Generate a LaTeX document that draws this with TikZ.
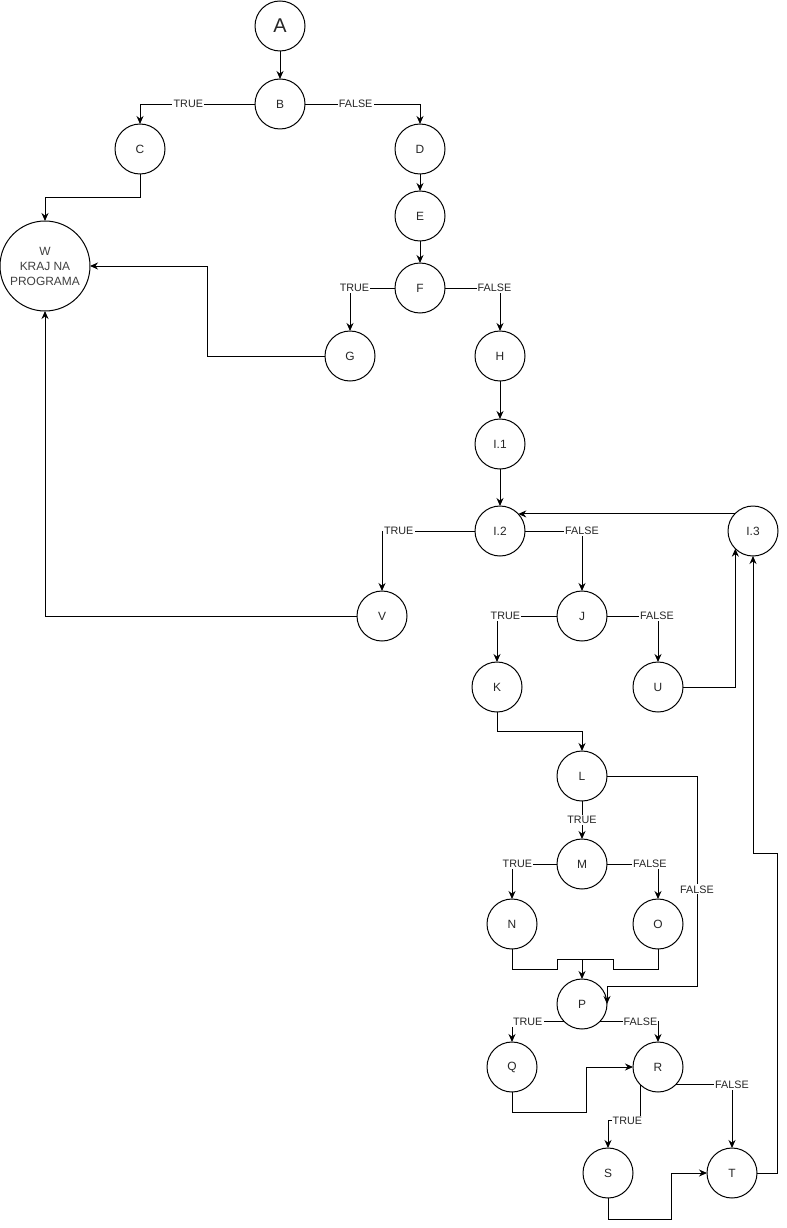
\documentclass[tikz,border=0pt]{standalone}
\usepackage{fontspec}
\setmainfont{Liberation Sans}
\usetikzlibrary{positioning, arrows.meta, calc}

\begin{document}
\begin{tikzpicture}[
        node distance=0.84cm and 2.7cm,
        line width=0.85pt,
        state/.style={draw, circle, minimum size=1.5cm, inner sep=0pt, outer sep=0pt, font=\fontsize{10.2}{12}\selectfont, text=black!85},
        stop/.style={draw, circle, minimum size=2.7cm, inner sep=0pt, outer sep=0pt, align=center, font=\fontsize{10.2}{12.8}\selectfont, text=black!75},
        cond/.style={fill=white, inner sep=1pt, font=\fontsize{9.2}{11}\selectfont, text=black!85},
        arrow/.style={-{Stealth[length=2.4mm, width=2.1mm]}}
    ]
    \useasboundingbox (0,0) rectangle (23.58,-36.84);

    \node[state, font=\fontsize{17}{20}\selectfont] (A) at (8.4,-0.78) {A};
    \node[state, below=of A] (B) {B};
    \node[state, left=of B, yshift=-1.35cm] (C) {C};
    \node[state, right=of B, yshift=-1.35cm] (D) {D};
    \node[stop, below=1.41cm of C, xshift=-2.85cm] (W) {W\\KRAJ NA\\PROGRAMA};
    \node[state, below=0.51cm of D] (E) {E};
    \node[state, below=0.66cm of E] (F) {F};
    \node[state, below=0.54cm of F, xshift=-2.1cm] (G) {G};
    \node[state, below=0.54cm of F, xshift=2.4cm] (H) {H};
    \node[state, below=1.14cm of H] (I1) {I.1};
    \node[state, below=1.11cm of I1] (I2) {I.2};
    \node[state, right=6.09cm of I2] (I3) {I.3};
    \node[state, below=1.05cm of I2, xshift=-3.54cm] (V) {V};
    \node[state, below=1.05cm of I2, xshift=2.46cm] (J) {J};
    \node[state, below=0.63cm of J, xshift=-2.55cm] (K) {K};
    \node[state, below=0.63cm of J, xshift=2.28cm] (U) {U};
    \node[state, below=1.17cm of K, xshift=2.55cm] (L) {L};
    \node[state, below=1.14cm of L] (M) {M};
    \node[state, below=0.3cm of M, xshift=-2.1cm] (N) {N};
    \node[state, below=0.3cm of M, xshift=2.28cm] (O) {O};
    \node[state, below=2.7cm of M] (P) {P};
    \node[state, below=0.39cm of P, xshift=-2.1cm] (Q) {Q};
    \node[state, below=0.39cm of P, xshift=2.28cm] (R) {R};
    \node[state, below=1.68cm of R, xshift=-1.5cm] (S) {S};
    \node[state, right=2.22cm of S] (T) {T};
    \coordinate[above=0.6cm of P] (NO);

    % top part
    \draw[arrow] (A) -- (B);
    \draw[arrow] (B) -| node[cond, pos=0.29] {TRUE} (C);
    \draw[arrow] (B) -| node[cond, pos=0.22] {FALSE} (D);
    \draw[arrow] (C.south) -- ++(0,-0.69) -| (W.north);
    \draw[arrow] (D) -- (E);
    \draw[arrow] (E) -- (F);
    \draw[arrow] (F) -| node[cond, pos=0.45] {TRUE} (G);
    \draw[arrow] (F) -| node[cond, pos=0.45] {FALSE} (H);
    \draw[arrow] (G.west) -- ++(-3.54,0) |- (W.east);
    \draw[arrow] (H) -- (I1);
    \draw[arrow] (I1) -- (I2);

    % loop
    \draw[arrow] (I3.137) -- (I2.43);
    \draw[arrow] (I2) -| node[cond, pos=0.41] {TRUE} (V);
    \draw[arrow] (I2) -| node[cond, pos=0.5] {FALSE} (J);
    \draw[arrow] (V.west) -| (W.south);
    \draw[arrow] (J) -| node[cond, pos=0.43] {TRUE} (K);
    \draw[arrow] (J) -| node[cond, pos=0.49] {FALSE} (U);
    \draw[arrow] (U.east) -| (I3.south west);
    \draw[arrow] (K.south) -- ++(0,-0.57) -| (L.north);
    \draw[arrow] (L) -- node[cond] {TRUE} (M);
    \draw[arrow] (L.east) -- ++(2.7,0) -- node[cond, pos=0.54] {FALSE} ++(0,-6.3) -| (P.east);
    \draw[arrow] (M) -| node[cond, pos=0.44] {TRUE} (N);
    \draw[arrow] (M) -| node[cond, pos=0.42] {FALSE} (O);
    \draw (N.south) -- ++(0,-0.6) -| ([xshift=-0.75cm]NO) -- (NO);
    \draw (O.south) -- ++(0,-0.6) -| ([xshift=0.93cm]NO) -- (NO);
    \draw[arrow] (NO) -- (P);

    % bottom part
    \draw[arrow] (P.south west) -| node[cond, pos=0.35] {TRUE} (Q.north);
    \draw[arrow] (P.south east) -| node[cond, pos=0.35] {FALSE} (R.north);
    \draw[arrow] (Q.south) -- ++(0,-0.6) -| ([xshift=-1.41cm]R.west) -- (R.west);
    \draw[arrow] (R.south west) -- ++(0,-1.08) -| node[cond, pos=0.2] {TRUE} (S.north);
    \draw[arrow] (R.south east) -| node[cond, pos=0.5] {FALSE} (T.north);
    \draw[arrow] (S.south) -- ++(0,-0.63) -| ([xshift=-1.08cm]T.west) -- (T.west);
    \draw[arrow] (T.east) -- ++(0.6,0) -- ++(0,9.6) -| (I3.south);

\end{tikzpicture}
\end{document}
